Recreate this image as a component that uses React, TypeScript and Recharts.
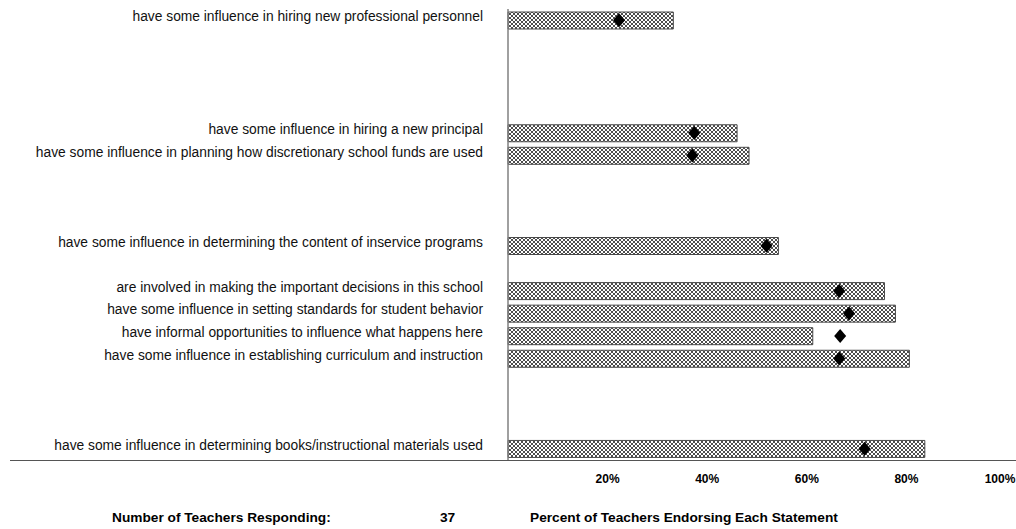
import { Bar, ComposedChart, Line, XAxis, YAxis } from "recharts";

// one row per slot on the vertical axis; empty strings are spacer rows
const statements = [
  "have some influence in hiring new professional personnel",
  "",
  "",
  "",
  "",
  "have some influence in hiring a new principal",
  "have some influence in planning how discretionary school funds are used",
  "",
  "",
  "",
  "have some influence in determining the content of inservice programs",
  "",
  "are involved in making the important decisions in this school",
  "have some influence in setting standards for student behavior",
  "have informal opportunities to influence what happens here",
  "have some influence in establishing curriculum and instruction",
  "",
  "",
  "",
  "have some influence in determining books/instructional materials used"
];

const schoolPercent = [
  33.2, null, null, null, null, 46.0, 48.4, null, null, null, 54.3, null,
  75.6, 77.8, 61.2, 80.6, null, null, null, 83.7
];

const comparisonPercent = [
  22.3, null, null, null, null, 37.4, 37.0, null, null, null, 51.9, null,
  66.5, 68.5, 66.7, 66.5, null, null, null, 71.6
];

const xTicks = [20, 40, 60, 80, 100];
const teachersResponding = 37;

const chartData = statements.map((label, i) => ({
  key: `row${i}`,
  label,
  pct: schoolPercent[i],
  mean: comparisonPercent[i]
}));

const FONT = "'Liberation Sans', Arial, sans-serif";

function StatementTick(props: any) {
  const { x, y, payload } = props;
  const row = chartData.find((d) => d.key === payload.value);
  return (
    <text x={x} y={y} dy={1} textAnchor="end" fontSize={13.8} fontFamily={FONT} fill="#111">
      {row ? row.label : ""}
    </text>
  );
}

function PercentTick(props: any) {
  const { x, y, payload } = props;
  const cx = Math.min(x, 1000);
  return (
    <text x={cx} y={y} dy={10} textAnchor="middle" fontSize={12} fontWeight="bold" fontFamily={FONT} fill="#000">
      {`${payload.value}%`}
    </text>
  );
}

function Diamond(props: any) {
  const { cx, cy, payload, index } = props;
  if (cx == null || cy == null || payload.mean == null) return <g key={`d${index}`} />;
  return (
    <path
      key={`d${index}`}
      d={`M${cx},${cy - 7} L${cx + 6},${cy} L${cx},${cy + 7} L${cx - 6},${cy} Z`}
      fill="#000"
    />
  );
}

export default function App() {
  const bottomText = { position: "absolute" as const, top: 510, fontSize: 13.7, fontWeight: "bold" as const, color: "#000" };
  return (
    <div style={{ position: "absolute", left: 0, top: 0, width: 1016, height: 529, background: "#fff", fontFamily: FONT }}>
      <ComposedChart
        width={1016}
        height={529}
        data={chartData}
        layout="vertical"
        margin={{ top: 9, right: 10, bottom: 39, left: 0 }}
        barCategoryGap={5}
      >
        <defs>
          <pattern id="hatch" width="4" height="4" patternUnits="userSpaceOnUse">
            <rect width="4" height="4" fill="#fff" />
            <path d="M0,0 L4,4 M4,0 L0,4" stroke="#000" strokeWidth="0.7" />
          </pattern>
        </defs>
        <XAxis
          type="number"
          domain={[0, 100]}
          ticks={xTicks}
          axisLine={false}
          tickLine={false}
          tickMargin={7}
          height={30}
          tick={<PercentTick />}
        />
        <YAxis
          type="category"
          dataKey="key"
          width={508}
          axisLine={{ stroke: "#808080", strokeWidth: 1.5 }}
          tickLine={false}
          tickMargin={19}
          interval={0}
          tick={<StatementTick />}
        />
        <Bar dataKey="pct" fill="url(#hatch)" stroke="#4a4a4a" strokeWidth={1} barSize={17} isAnimationActive={false} />
        <Line dataKey="mean" stroke="none" dot={<Diamond />} activeDot={false} isAnimationActive={false} />
      </ComposedChart>
      <div style={{ position: "absolute", left: 10, top: 460, width: 1006, height: 0, borderTop: "1.5px solid #555" }} />
      <div style={{ ...bottomText, left: 112 }}>Number of Teachers Responding:</div>
      <div style={{ ...bottomText, left: 440 }}>{teachersResponding}</div>
      <div style={{ ...bottomText, left: 530 }}>Percent of Teachers Endorsing Each Statement</div>
    </div>
  );
}
